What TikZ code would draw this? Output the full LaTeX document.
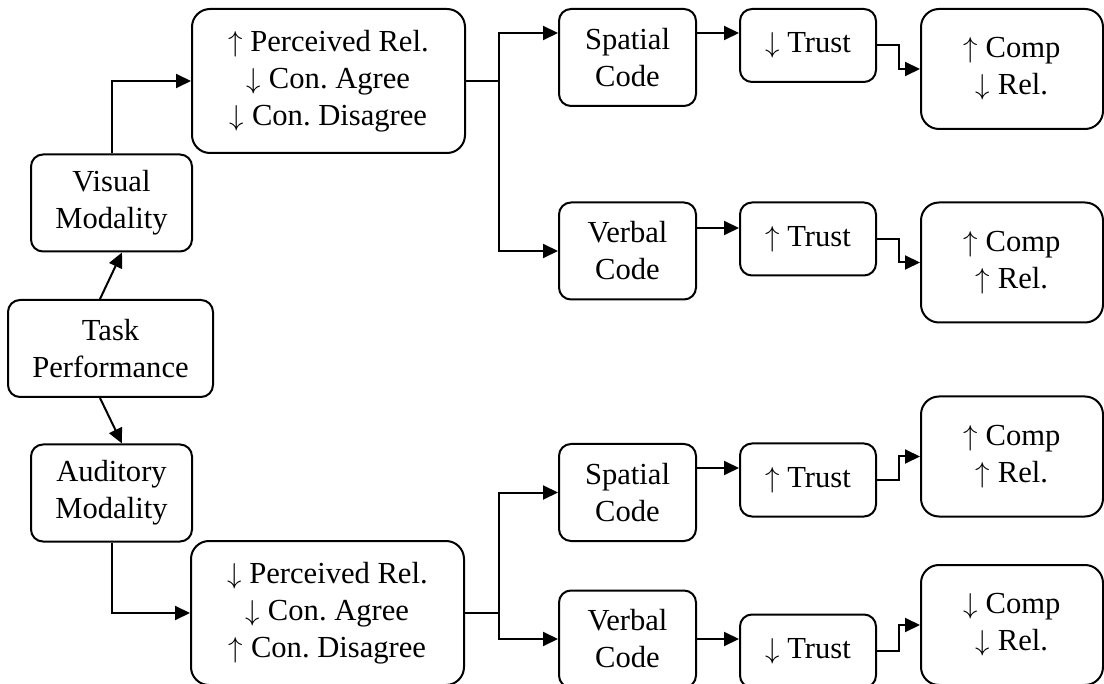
\documentclass[tikz,border=0pt]{standalone}
\usepackage{fontspec}
\setmainfont{Liberation Serif}
\usetikzlibrary{arrows.meta}
\tikzset{>={Triangle[width=7pt,length=7.5pt]}}
\tikzset{
  box/.style={draw,rounded corners=6pt,align=center,inner sep=0pt,
    font=\fontsize{15.3}{18.5}\selectfont},
  modbox/.style={box,minimum width=80.5pt,minimum height=48.5pt},
  percbox/.style={box,rounded corners=9pt,minimum width=136.5pt,minimum height=72pt},
  codebox/.style={box,minimum width=68.5pt,minimum height=48.5pt},
  trustbox/.style={box,minimum width=68pt,minimum height=36.5pt},
  compbox/.style={box,rounded corners=9pt,minimum width=91pt,minimum height=60pt}
}
\newcommand{\up}{$\uparrow$\ }
\newcommand{\dn}{$\downarrow$\ }
\frenchspacing

\begin{document}
\begin{tikzpicture}[x=0.5pt,y=-0.5pt,line width=1pt]

  \useasboundingbox (0,0) rectangle (1104,684);

  \node[box,minimum width=102.5pt,minimum height=48.5pt] (task) at (110.5,348.5) {Task\\Performance};
  \node[modbox] (visual) at (111.5,203) {Visual\\Modality};
  \node[modbox] (audit) at (111.5,493) {Auditory\\Modality};

  \node[percbox] (percA) at (328.5,81) {\up Perceived Rel.\\\dn Con. Agree\\\dn Con. Disagree};
  \node[percbox] (percB) at (327.5,613) {\dn Perceived Rel.\\\dn Con. Agree\\\up Con. Disagree};

  \node[codebox] (spatA) at (627.5,57.5) {Spatial\\Code};
  \node[codebox] (verbA) at (627.5,251) {Verbal\\Code};
  \node[codebox] (spatC) at (627.5,492.5) {Spatial\\Code};
  \node[codebox] (verbD) at (627.5,639) {Verbal\\Code};

  \node[trustbox] (trustA) at (808,45.5) {\dn Trust};
  \node[trustbox] (trustB) at (808,239) {\up Trust};
  \node[trustbox] (trustC) at (808,480) {\up Trust};
  \node[trustbox] (trustD) at (808,651) {\dn Trust};

  \node[compbox] (compA) at (1012,69) {\up Comp\\\dn Rel.};
  \node[compbox] (compB) at (1012,262.5) {\up Comp\\\up Rel.};
  \node[compbox] (compC) at (1012,456.5) {\up Comp\\\up Rel.};
  \node[compbox] (compD) at (1012,625) {\dn Comp\\\dn Rel.};

  % modality branches
  \draw[->] ([xshift=-5.25pt]task.north) -- ([xshift=5.25pt]visual.south);
  \draw[->] ([xshift=-5.25pt]task.south) -- ([xshift=5.25pt]audit.north);
  \draw[->] (visual.north) |- (percA.west);
  \draw[->] (audit.south) |- (percB.west);

  % split to codes
  \coordinate (sA) at ([xshift=16.5pt]percA.east);
  \coordinate (sB) at ([xshift=17pt]percB.east);
  \coordinate (inA) at ([yshift=12.25pt]spatA.west);
  \draw (percA.east) -- (sA);
  \draw[->] (sA) |- (inA);
  \draw[->] (sA) |- (verbA.west);
  \draw (percB.east) -- (sB);
  \draw[->] (sB) |- (spatC.west);
  \draw[->] (sB) |- (verbD.west);

  % codes to trust
  \coordinate (outB) at ([yshift=11.5pt]verbA.east);
  \coordinate (outC) at ([yshift=12.25pt]spatC.east);
  \draw[->] (inA -| spatA.east) -- (inA -| trustA.west);
  \draw[->] (outB) -- (outB -| trustB.west);
  \draw[->] (outC) -- (outC -| trustC.west);
  \draw[->] (verbD.east) -- (verbD.east -| trustD.west);

  % trust to outcome
  \foreach \t/\c in {trustA/compA,trustB/compB,trustC/compC,trustD/compD}
    \draw[->] (\t.east) -- ++(11pt,0) |- (\c.west);

\end{tikzpicture}
\end{document}
